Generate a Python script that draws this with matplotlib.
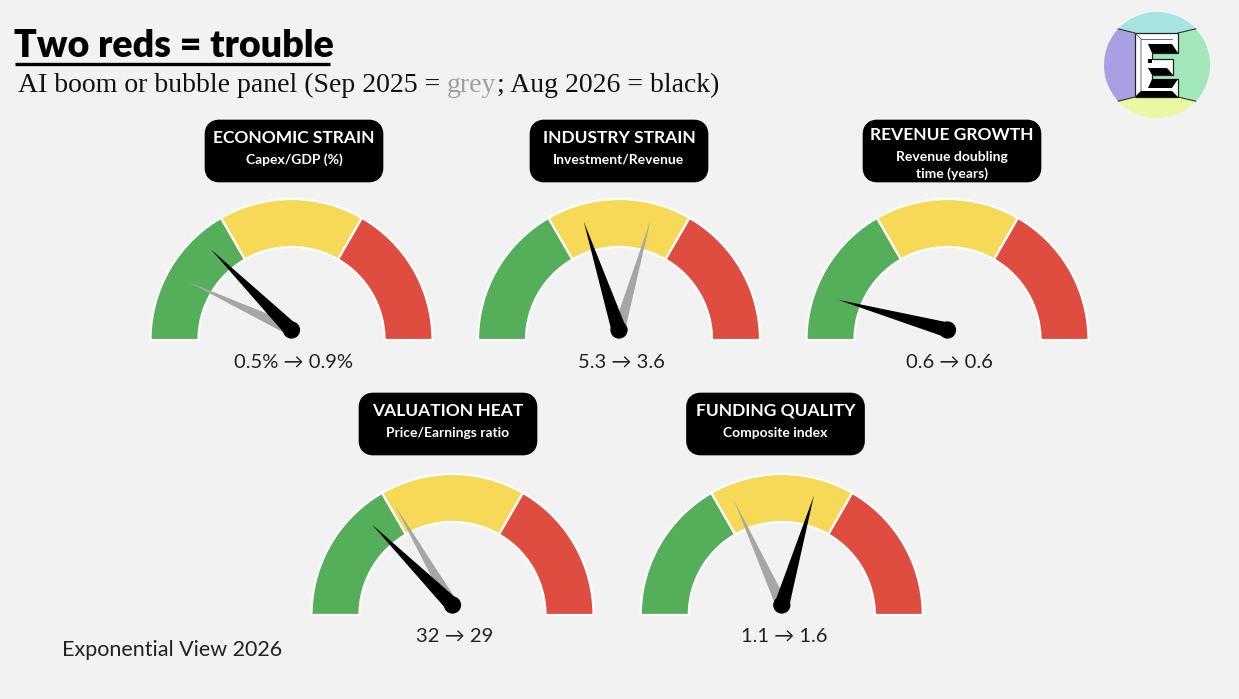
import numpy as np
import matplotlib
matplotlib.use("Agg")
import matplotlib.pyplot as plt
from matplotlib.patches import Polygon, Circle, FancyBboxPatch

W, H = 1239, 699
BG = "#f2f2f2"
GREEN, YELLOW, RED = "#55ae5a", "#f5d957", "#df4c40"

# panel data
titles = ["ECONOMIC STRAIN", "INDUSTRY STRAIN", "REVENUE GROWTH",
          "VALUATION HEAT", "FUNDING QUALITY"]
subtitles = ["Capex/GDP (%)", "Investment/Revenue", "Revenue doubling\ntime (years)",
             "Price/Earnings ratio", "Composite index"]
sep_2025 = [0.5, 5.3, 0.6, 32, 1.1]
aug_2026 = [0.9, 3.6, 0.6, 29, 1.6]
scale_min = [0, 0, 0, 20, 0.3]
scale_max = [3.6, 9, 7, 56, 2.5]
value_labels = ["0.5% → 0.9%", "5.3 → 3.6", "0.6 → 0.6", "32 → 29", "1.1 → 1.6"]

# layout in pixels (gauge centre x, centre y, title box centre x)
layout = [(291.5, 340, 294), (619, 340, 619), (947.5, 340, 952),
          (452.5, 615, 448), (781.8, 615, 775.5)]

R_OUT, R_IN = 141, 93
NEEDLE_LEN = 114
PIVOT_LIFT = 10

fig = plt.figure(figsize=(W / 100, H / 100), dpi=100, facecolor=BG)
ax = fig.add_axes([0, 0, 1, 1])
ax.set_xlim(0, W)
ax.set_ylim(H, 0)
ax.axis("off")
ax.set_facecolor(BG)

SANS = ["Lato", "DejaVu Sans"]


def arc_band(cx, cy, a0, a1, r0, r1):
    t = np.radians(np.linspace(a0, a1, 60))
    outer = np.column_stack([cx + r1 * np.cos(t), cy - r1 * np.sin(t)])
    inner = np.column_stack([cx + r0 * np.cos(t[::-1]), cy - r0 * np.sin(t[::-1])])
    return np.vstack([outer, inner])


def needle(px, py, ang, length, half_w, color, z):
    a = np.radians(ang)
    tip = (px + length * np.cos(a), py - length * np.sin(a))
    nx, ny = -np.sin(a), -np.cos(a)
    pts = [(px + half_w * nx, py + half_w * ny), tip, (px - half_w * nx, py - half_w * ny)]
    ax.add_patch(Polygon(pts, closed=True, fc=color, ec="none", zorder=z))
    ax.add_patch(Circle((px, py), half_w * 1.15, fc=color, ec="none", zorder=z))


for i in range(len(titles)):
    cx, cy, bx = layout[i]
    # coloured bands
    for (a0, a1), col in zip([(180, 120), (120, 60), (60, 0)], [GREEN, YELLOW, RED]):
        ax.add_patch(Polygon(arc_band(cx, cy, a0, a1, R_IN, R_OUT), closed=True,
                             fc=col, ec="white", lw=1.6, zorder=2))

    # needles
    lo, hi = scale_min[i], scale_max[i]
    px, py = cx, cy - PIVOT_LIFT
    ang_old = 180 - 180 * (sep_2025[i] - lo) / (hi - lo)
    ang_new = 180 - 180 * (aug_2026[i] - lo) / (hi - lo)
    needle(px, py, ang_old, NEEDLE_LEN, 6, "#a6a6a6", 3)
    needle(px, py, ang_new, NEEDLE_LEN, 7.5, "black", 4)

    # title box
    top = 120 if cy < 400 else 393
    ax.add_patch(FancyBboxPatch((bx - 81, top + 8), 162, 46,
                                boxstyle="round,pad=0,rounding_size=6",
                                fc="black", ec="black", lw=12, joinstyle="round", zorder=2))
    if "\n" in subtitles[i]:
        ax.text(bx, top + 15, titles[i], color="white", fontsize=12.5, fontweight="bold",
                family=SANS, ha="center", va="center", zorder=5)
        l1, l2 = subtitles[i].split("\n")
        ax.text(bx, top + 37, l1, color="white", fontsize=10, fontweight="bold",
                family=SANS, ha="center", va="center", zorder=5)
        ax.text(bx, top + 54, l2, color="white", fontsize=10, fontweight="bold",
                family=SANS, ha="center", va="center", zorder=5)
    else:
        ax.text(bx, top + 18, titles[i], color="white", fontsize=12.5, fontweight="bold",
                family=SANS, ha="center", va="center", zorder=5)
        ax.text(bx, top + 40, subtitles[i], color="white", fontsize=10, fontweight="bold",
                family=SANS, ha="center", va="center", zorder=5)

    # value label
    ax.text(cx + 2, cy + 22, value_labels[i], color="#222222", fontsize=14.5,
            family=SANS, ha="center", va="center", zorder=5)

# headline
ax.text(14, 46, "Two reds = trouble", fontsize=27, fontweight="heavy", family=SANS,
        color="black", ha="left", va="center")
ax.plot([15, 330], [64, 64], color="black", lw=2.4, solid_capstyle="butt")

# subtitle in pieces so "grey" can be grey
fig.canvas.draw()
renderer = fig.canvas.get_renderer()
x = 18
for piece, col in [("AI boom or bubble panel (Sep 2025 = ", "#111111"),
                   ("grey", "#a0a0a0"),
                   ("; Aug 2026 = black)", "#111111")]:
    t = ax.text(x, 85, piece, fontsize=20, family=["Liberation Serif", "DejaVu Serif"],
                color=col, ha="left", va="center")
    bb = t.get_window_extent(renderer)
    x += bb.width

ax.text(62, 650, "Exponential View 2026", fontsize=15.5, family=SANS, color="#222222",
        ha="left", va="center")

# logo
lx, ly, lr = 1157, 65, 53
ex0, ex1, ey0, ey1 = 1135, 1178, 33, 97
corners = {"tl": (ex0, ey0), "tr": (ex1, ey0), "bl": (ex0, ey1), "br": (ex1, ey1)}
rim = {"tl": 137, "tr": 43, "bl": 223, "br": 317}


def rim_pt(a):
    return (lx + lr * np.cos(np.radians(a)), ly - lr * np.sin(np.radians(a)))


def sector(c1, c2, a1, a2):
    t = np.linspace(a1, a2, 40)
    arc = [rim_pt(a) for a in t]
    return [corners[c1]] + arc + [corners[c2]]


ax.add_patch(Polygon(sector("tr", "tl", 43, 137), closed=True, fc="#a4e5e1", ec="none", zorder=6))
ax.add_patch(Polygon(sector("tl", "bl", 137, 223), closed=True, fc="#a99fe3", ec="none", zorder=6))
ax.add_patch(Polygon(sector("bl", "br", 223, 317), closed=True, fc="#eaf7a3", ec="none", zorder=6))
ax.add_patch(Polygon(sector("br", "tr", -43, 43), closed=True, fc="#a3e8ba", ec="none", zorder=6))
for c in corners:
    p = rim_pt(rim[c])
    ax.plot([corners[c][0], p[0]], [corners[c][1], p[1]], color="#333333", lw=0.8, zorder=7)
ax.add_patch(Polygon([(ex0, ey0), (ex1, ey0), (ex1, ey1), (ex0, ey1)], closed=True,
                     fc="#a3e8ba", ec="none", zorder=6))

# E letter: white faces with black bevels
e_shape = [(ex0, ey0), (ex1, ey0), (ex1, 53), (1152, 53), (1152, 59), (1173, 59), (1173, 75),
           (1152, 75), (1152, 79), (ex1, 79), (ex1, ey1), (ex0, ey1)]
ax.add_patch(Polygon(e_shape, closed=True, fc="white", ec="#222222", lw=0.9, zorder=7))
for poly in [[(1148, 44), (1172, 44), (ex1, 53), (1152, 53)],
             [(1148, 68), (1167, 68), (1173, 75), (1152, 75)],
             [(1152, 79), (ex1, 79), (1172, 88), (1148, 88)],
             [(1148, 59), (1152, 59), (1152, 63), (1148, 63)],
             [(ex0, ey1), (1141, 91), (1172, 91), (ex1, ey1)]]:
    ax.add_patch(Polygon(poly, closed=True, fc="black", ec="none", zorder=8))
ax.plot([ex0, 1141, 1141, ex0], [ey0, 39, 91, ey1], color="#555555", lw=0.6, zorder=8)
ax.plot([1141, 1172], [39, 39], color="#555555", lw=0.6, zorder=8)

fig.savefig("out.png", dpi=100, facecolor=BG)
